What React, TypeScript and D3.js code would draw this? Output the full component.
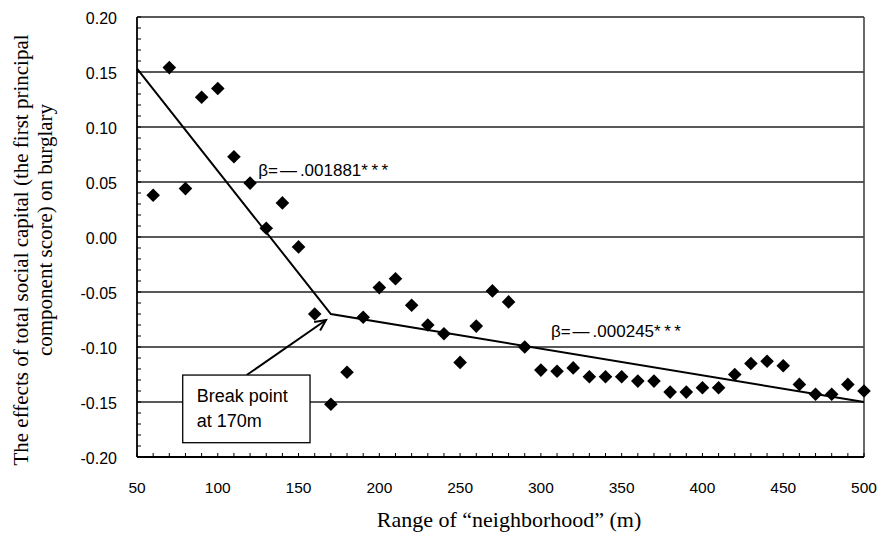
import React from "react";
import * as d3 from "d3";

// Neighborhood radius (m) and estimated effect on burglary
const ranges = [60, 70, 80, 90, 100, 110, 120, 130, 140, 150, 160, 170, 180, 190, 200, 210, 220, 230, 240, 250, 260, 270, 280, 290, 300, 310, 320, 330, 340, 350, 360, 370, 380, 390, 400, 410, 420, 430, 440, 450, 460, 470, 480, 490, 500];
const effects = [0.038, 0.154, 0.044, 0.127, 0.135, 0.073, 0.049, 0.008, 0.031, -0.009, -0.070, -0.152, -0.123, -0.073, -0.046, -0.038, -0.062, -0.080, -0.088, -0.114, -0.081, -0.049, -0.059, -0.100, -0.121, -0.122, -0.119, -0.127, -0.127, -0.127, -0.131, -0.131, -0.141, -0.141, -0.137, -0.137, -0.125, -0.115, -0.113, -0.117, -0.134, -0.143, -0.143, -0.134, -0.140];

// Piecewise regression fit with a break at 170 m
const fitX = [50, 170, 500];
const fitY = [0.153, -0.070, -0.150];

const slopeCoef = [".001881", ".000245"];
const breakLabel = ["Break point", "at 170m"];

const yTicks = [0.2, 0.15, 0.1, 0.05, 0, -0.05, -0.1, -0.15, -0.2];
const xTicks = [50, 100, 150, 200, 250, 300, 350, 400, 450, 500];

const W = 880;
const H = 538;
const left = 137;
const right = 864;
const top = 17;
const bottom = 457;

export default function App() {
  const x = d3.scaleLinear().domain([50, 500]).range([left, right]);
  const y = d3.scaleLinear().domain([-0.2, 0.2]).range([bottom, top]);

  const fitLine = d3
    .line<number>()
    .x((_, i) => x(fitX[i]))
    .y((d) => y(d))(fitY) as string;

  const s = 6.8;
  const diamondPath = `M0,${-s}L${s},0L0,${s}L${-s},0Z`;

  const minorY = d3.range(-20, 21).map((v) => v / 100);
  const minorX = d3.range(50, 501, 10);

  // Callout geometry (data coordinates)
  const boxX0 = x(78.3);
  const boxX1 = x(157.1);
  const boxY0 = y(-0.1255);
  const boxY1 = y(-0.187);
  const arrowFrom: [number, number] = [x(117.9), y(-0.1255)];
  const arrowTo: [number, number] = [x(167), y(-0.0755)];
  const ang = Math.atan2(arrowTo[1] - arrowFrom[1], arrowTo[0] - arrowFrom[0]);
  const headLen = 12;
  const headSpread = 0.45;
  const h1: [number, number] = [
    arrowTo[0] - headLen * Math.cos(ang - headSpread),
    arrowTo[1] - headLen * Math.sin(ang - headSpread),
  ];
  const h2: [number, number] = [
    arrowTo[0] - headLen * Math.cos(ang + headSpread),
    arrowTo[1] - headLen * Math.sin(ang + headSpread),
  ];

  const sans = "'Liberation Sans', Arial, sans-serif";
  const serif = "'Liberation Serif', 'Times New Roman', serif";

  const slopeText = (coef: string, px: number, py: number) => (
    <text x={px} y={py} fontFamily={sans} fontSize={17} fill="#000">
      <tspan>β=</tspan>
      <tspan dx={2}>—</tspan>
      <tspan dx={3}>{coef}</tspan>
      <tspan letterSpacing={3.5}>***</tspan>
    </text>
  );

  return (
    <svg
      width={W}
      height={H}
      viewBox={`0 0 ${W} ${H}`}
      style={{ position: "absolute", left: 0, top: 0, background: "#fff" }}
    >
      <rect x={0} y={0} width={W} height={H} fill="#fff" />

      {/* horizontal gridlines */}
      {yTicks.map((t) => (
        <line key={"g" + t} x1={left} x2={right} y1={y(t)} y2={y(t)} stroke="#222" strokeWidth={1.4} />
      ))}

      {/* frame */}
      <line x1={right} x2={right} y1={top} y2={bottom} stroke="#444" strokeWidth={1.6} />
      <line x1={left} x2={left} y1={top} y2={bottom} stroke="#000" strokeWidth={1.8} />
      <line x1={left} x2={right} y1={bottom} y2={bottom} stroke="#000" strokeWidth={1.8} />

      {/* minor ticks */}
      {minorY.map((t) => (
        <line key={"my" + t} x1={left} x2={left + 4} y1={y(t)} y2={y(t)} stroke="#000" strokeWidth={1} />
      ))}
      {minorX.map((t) => (
        <line key={"mx" + t} x1={x(t)} x2={x(t)} y1={bottom} y2={bottom - 4} stroke="#000" strokeWidth={1} />
      ))}

      {/* y tick labels */}
      {yTicks.map((t) => (
        <text key={"yl" + t} x={117} y={y(t) + 6.5} textAnchor="end" fontFamily={sans} fontSize={16} fill="#000">
          {t.toFixed(2)}
        </text>
      ))}

      {/* x tick labels */}
      {xTicks.map((t) => (
        <text key={"xl" + t} x={x(t)} y={493} textAnchor="middle" fontFamily={sans} fontSize={15.5} fill="#000">
          {t}
        </text>
      ))}

      {/* fitted segments */}
      <path d={fitLine} fill="none" stroke="#000" strokeWidth={2} />

      {/* points */}
      {ranges.map((r, i) => (
        <path key={"p" + r} d={diamondPath} transform={`translate(${x(r)},${y(effects[i])})`} fill="#000" />
      ))}

      {/* slope annotations */}
      {slopeText(slopeCoef[0], x(125), y(0.0557))}
      {slopeText(slopeCoef[1], x(306.2), y(-0.0909))}

      {/* break point callout */}
      <line x1={arrowFrom[0]} y1={arrowFrom[1]} x2={arrowTo[0]} y2={arrowTo[1]} stroke="#000" strokeWidth={2} />
      <path
        d={`M${h1[0]},${h1[1]}L${arrowTo[0]},${arrowTo[1]}L${h2[0]},${h2[1]}`}
        fill="none"
        stroke="#000"
        strokeWidth={2}
      />
      <rect
        x={boxX0}
        y={boxY0}
        width={boxX1 - boxX0}
        height={boxY1 - boxY0}
        fill="#fff"
        stroke="#000"
        strokeWidth={1.3}
      />
      <text x={boxX0 + 14} y={boxY0 + 27} fontFamily={sans} fontSize={18} fill="#000">
        {breakLabel[0]}
      </text>
      <text x={boxX0 + 14} y={boxY0 + 52} fontFamily={sans} fontSize={18} fill="#000">
        {breakLabel[1]}
      </text>

      {/* axis titles */}
      <text x={509} y={527} textAnchor="middle" fontFamily={serif} fontSize={22} fill="#000">
        Range of “neighborhood” (m)
      </text>
      <text
        transform="translate(28,250) rotate(-90)"
        textAnchor="middle"
        fontFamily={serif}
        fontSize={21}
        fill="#000"
      >
        The effects of total social capital (the first principal
      </text>
      <text
        transform="translate(52,230) rotate(-90)"
        textAnchor="middle"
        fontFamily={serif}
        fontSize={21}
        fill="#000"
      >
        component score) on burglary
      </text>
    </svg>
  );
}
